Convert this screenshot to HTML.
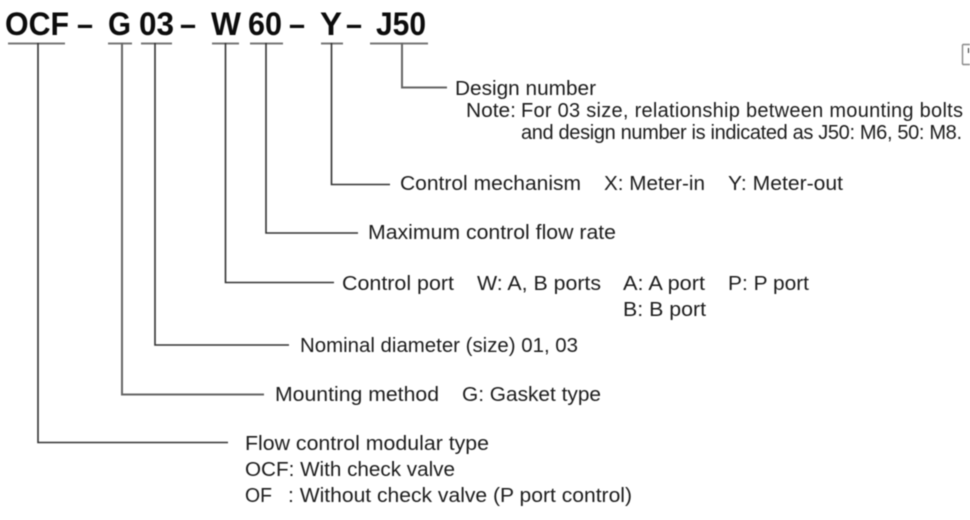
<!DOCTYPE html>
<html><head><meta charset="utf-8"><style>
html,body{margin:0;padding:0;background:#fff;width:970px;height:520px;overflow:hidden}
svg{display:block;filter:blur(.45px)}
text{font-family:"Liberation Sans",sans-serif;font-size:20px;fill:#1c1c1c}
.h{font-size:32px;font-weight:bold;fill:#0c0c0c}
path{fill:none;stroke:#333;stroke-width:1.6}
.u{stroke:#777;stroke-width:2}
.g{stroke:#666;stroke-width:2}
</style></head><body>
<svg width="970" height="520" viewBox="0 0 970 520" xmlns="http://www.w3.org/2000/svg">
<g>
<text class="h" x="5" y="35" textLength="64" lengthAdjust="spacingAndGlyphs">OCF</text>
<text class="h" x="77" y="35" textLength="16" lengthAdjust="spacingAndGlyphs">–</text>
<text class="h" x="108" y="35" textLength="23" lengthAdjust="spacingAndGlyphs">G</text>
<text class="h" x="139" y="35" textLength="35" lengthAdjust="spacingAndGlyphs">03</text>
<text class="h" x="180" y="35" textLength="16" lengthAdjust="spacingAndGlyphs">–</text>
<text class="h" x="211" y="35" textLength="30" lengthAdjust="spacingAndGlyphs">W</text>
<text class="h" x="248" y="35" textLength="34" lengthAdjust="spacingAndGlyphs">60</text>
<text class="h" x="289" y="35" textLength="16" lengthAdjust="spacingAndGlyphs">–</text>
<text class="h" x="320" y="35" textLength="22" lengthAdjust="spacingAndGlyphs">Y</text>
<text class="h" x="346" y="35" textLength="16" lengthAdjust="spacingAndGlyphs">–</text>
<text class="h" x="376" y="35" textLength="50" lengthAdjust="spacingAndGlyphs">J50</text>
</g>
<path class="u" d="M8 43.5H65M108 43.5H132M141 43.5H172M212 43.5H239M250 43.5H283M321 43.5H343M370 43.5H428"/>
<path d="M38 43V442.5H228"/>
<path class="g" d="M122 43V394.5H264"/>
<path d="M155 43V345H289"/>
<path d="M225.500 43V282.500H334"/>
<path d="M266 43V233H358"/>
<path d="M331.500 43V184.500H390"/>
<path class="g" d="M402 43V87.500H447"/>
<path d="M962.500 44.500V64.500M962.500 44.500H970M962.500 64.500H970" style="stroke:#888;stroke-width:1.400"/>
<path d="M968.500 48V53" style="stroke:#444;stroke-width:1.200"/>
<text x="455" y="95" textLength="141" lengthAdjust="spacingAndGlyphs">Design number</text>
<text x="466" y="117" textLength="50" lengthAdjust="spacingAndGlyphs">Note:</text>
<text x="521" y="117" textLength="442" lengthAdjust="spacing">For 03 size, relationship between mounting bolts</text>
<text x="521" y="139" textLength="441" lengthAdjust="spacing">and design number is indicated as J50: M6, 50: M8.</text>
<text x="400" y="190" textLength="181" lengthAdjust="spacingAndGlyphs">Control mechanism</text>
<text x="604" y="190" textLength="101" lengthAdjust="spacingAndGlyphs">X: Meter-in</text>
<text x="728" y="190" textLength="115" lengthAdjust="spacingAndGlyphs">Y: Meter-out</text>
<text x="368" y="239" textLength="248" lengthAdjust="spacingAndGlyphs">Maximum control flow rate</text>
<text x="342" y="290" textLength="112" lengthAdjust="spacingAndGlyphs">Control port</text>
<text x="477" y="290" textLength="124" lengthAdjust="spacingAndGlyphs">W: A, B ports</text>
<text x="623" y="290" textLength="82" lengthAdjust="spacingAndGlyphs">A: A port</text>
<text x="728" y="290" textLength="81" lengthAdjust="spacingAndGlyphs">P: P port</text>
<text x="623" y="316" textLength="83" lengthAdjust="spacingAndGlyphs">B: B port</text>
<text x="300" y="352" textLength="278" lengthAdjust="spacingAndGlyphs">Nominal diameter (size) 01, 03</text>
<text x="275" y="401" textLength="164" lengthAdjust="spacingAndGlyphs">Mounting method</text>
<text x="462" y="401" textLength="139" lengthAdjust="spacingAndGlyphs">G: Gasket type</text>
<text x="245" y="450" textLength="244" lengthAdjust="spacingAndGlyphs">Flow control modular type</text>
<text x="245" y="476" textLength="210" lengthAdjust="spacingAndGlyphs">OCF: With check valve</text>
<text x="245" y="502" textLength="27" lengthAdjust="spacingAndGlyphs">OF</text>
<text x="288" y="502" textLength="344" lengthAdjust="spacingAndGlyphs">: Without check valve (P port control)</text>
</svg>
</body></html>
